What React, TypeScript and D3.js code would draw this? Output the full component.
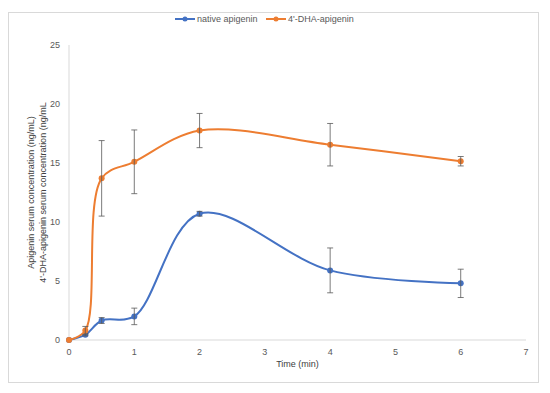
import React from "react";
import * as d3 from "d3";

// time points (min)
const times = [0, 0.25, 0.5, 1, 2, 4, 6];
// native apigenin
const nativeVals = [0, 0.45, 1.65, 2.0, 10.7, 5.9, 4.8];
const nativeErr = [0, 0.1, 0.25, 0.7, 0.2, 1.9, 1.2];
// 4'-DHA-apigenin
const dhaVals = [0, 0.8, 13.7, 15.1, 17.75, 16.55, 15.15];
const dhaErr = [0, 0.35, 3.2, 2.7, 1.45, 1.8, 0.4];

const xTicks = [0, 1, 2, 3, 4, 5, 6, 7];
const yTicks = [0, 5, 10, 15, 20, 25];

const W = 550;
const H = 393;
const margin = { left: 69, right: 24, top: 45, bottom: 53 };
const font = "Liberation Sans, Arial, sans-serif";

function App() {
  const x = d3.scaleLinear().domain([0, 7]).range([margin.left, W - margin.right]);
  const y = d3.scaleLinear().domain([0, 25]).range([H - margin.bottom, margin.top]);

  // smoothed line, close to Excel's "smoothed line" look
  const line = d3
    .line<[number, number]>()
    .x((d) => x(d[0]))
    .y((d) => y(d[1]))
    .curve(d3.curveCatmullRom.alpha(0.5));

  const series = [
    { name: "native apigenin", vals: nativeVals, err: nativeErr, color: "#4472c4" },
    { name: "4'-DHA-apigenin", vals: dhaVals, err: dhaErr, color: "#ed7d31" },
  ];

  const y0 = y(0);

  return (
    <svg width={W} height={H} style={{ position: "absolute", left: 0, top: 0 }}>
      <rect x={0} y={0} width={W} height={H} fill="#fff" />
      <rect x={8.5} y={12.5} width={530} height={370} fill="#fff" stroke="#d9d9d9" />
      {/* axes */}
      <line x1={x(0)} x2={x(7)} y1={y0} y2={y0} stroke="#d9d9d9" />
      <line x1={x(0)} x2={x(0)} y1={y(25)} y2={y0} stroke="#d9d9d9" />
      {xTicks.map((t) => (
        <text key={"x" + t} x={x(t)} y={y0 + 15} fontSize={9} fill="#595959"
          textAnchor="middle" fontFamily={font}>
          {t}
        </text>
      ))}
      {yTicks.map((t) => (
        <text key={"y" + t} x={x(0) - 9} y={y(t) + 3} fontSize={9} fill="#595959"
          textAnchor="end" fontFamily={font}>
          {t}
        </text>
      ))}
      <text x={(x(0) + x(7)) / 2} y={y0 + 27} fontSize={9} fill="#404040"
        textAnchor="middle" fontFamily={font}>
        Time (min)
      </text>
      <g transform={`translate(34, ${(y(25) + y0) / 2}) rotate(-90)`}>
        <text x={0} y={0} fontSize={9} fill="#404040" textAnchor="middle" fontFamily={font}>
          Apigenin serum concentration (ng/mL)
        </text>
        <text x={0} y={12} fontSize={9} fill="#404040" textAnchor="middle" fontFamily={font}>
          4'-DHA-apigenin serum concentration (ng/mL
        </text>
      </g>
      {series.map((s) => {
        const pts: [number, number][] = times.map((t, i) => [t, s.vals[i]]);
        return (
          <g key={s.name}>
            <path d={line(pts) || ""} fill="none" stroke={s.color} strokeWidth={2} />
            {pts.map((p, i) => (
              <circle key={i} cx={x(p[0])} cy={y(p[1])} r={3} fill={s.color} />
            ))}
            {pts.map((p, i) =>
              s.err[i] > 0 ? (
                <g key={"e" + i} stroke="#595959" strokeWidth={0.8}>
                  <line x1={x(p[0])} x2={x(p[0])} y1={y(p[1] + s.err[i])} y2={y(p[1] - s.err[i])} />
                  <line x1={x(p[0]) - 3} x2={x(p[0]) + 3} y1={y(p[1] + s.err[i])} y2={y(p[1] + s.err[i])} />
                  <line x1={x(p[0]) - 3} x2={x(p[0]) + 3} y1={y(p[1] - s.err[i])} y2={y(p[1] - s.err[i])} />
                </g>
              ) : null
            )}
          </g>
        );
      })}
      {/* legend */}
      {series.map((s, i) => {
        const lx = i === 0 ? 175 : 266;
        return (
          <g key={"l" + i}>
            <line x1={lx} x2={lx + 20} y1={19} y2={19} stroke={s.color} strokeWidth={2} />
            <circle cx={lx + 10} cy={19} r={2.5} fill={s.color} />
            <text x={lx + 22} y={22} fontSize={9} fill="#595959" fontFamily={font}>
              {s.name}
            </text>
          </g>
        );
      })}
    </svg>
  );
}

export default App;
